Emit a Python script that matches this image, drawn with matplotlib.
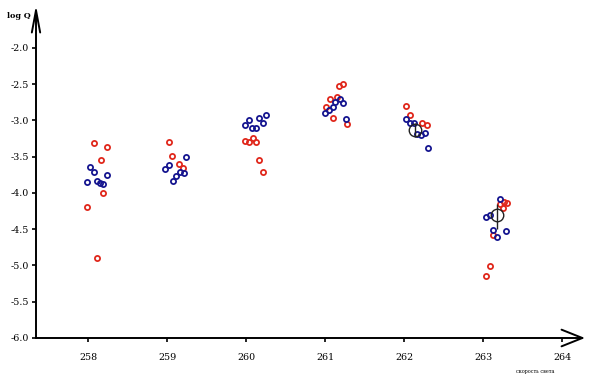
import matplotlib
matplotlib.use("Agg")
import matplotlib.pyplot as plt

# ---- data ----
red_x = [258.07, 258.24, 258.16, 258.19, 257.99, 258.11,
         259.02, 259.06, 259.15, 259.20,
         259.99, 260.04, 260.09, 260.13, 260.17, 260.21,
         261.18, 261.23, 261.06, 261.15, 261.01, 261.10, 261.28,
         262.03, 262.08, 262.23, 262.29,
         263.21, 263.26, 263.30, 263.25, 263.12, 263.09, 263.04]
red_y = [-3.31, -3.37, -3.55, -4.00, -4.20, -4.90,
         -3.30, -3.49, -3.60, -3.66,
         -3.28, -3.30, -3.25, -3.30, -3.55, -3.71,
         -2.53, -2.50, -2.71, -2.68, -2.82, -2.97, -3.05,
         -2.80, -2.92, -3.03, -3.07,
         -4.15, -4.13, -4.14, -4.21, -4.58, -5.01, -5.14]

blue_x = [258.03, 258.08, 258.24, 257.99, 258.11, 258.15, 258.19,
          259.24, 259.03, 258.98, 259.16, 259.21, 259.11, 259.07,
          259.99, 260.04, 260.17, 260.25, 260.22, 260.07, 260.13,
          261.19, 261.23, 261.13, 261.10, 261.05, 261.00, 261.27,
          262.02, 262.07, 262.12, 262.17, 262.21, 262.26, 262.30,
          263.22, 263.04, 263.09, 263.12, 263.29, 263.17]
blue_y = [-3.64, -3.71, -3.76, -3.85, -3.83, -3.86, -3.88,
          -3.51, -3.61, -3.67, -3.71, -3.72, -3.77, -3.84,
          -3.07, -3.00, -2.97, -2.93, -3.03, -3.11, -3.11,
          -2.71, -2.76, -2.75, -2.81, -2.86, -2.90, -2.98,
          -2.98, -3.03, -3.04, -3.19, -3.20, -3.18, -3.38,
          -4.09, -4.33, -4.31, -4.51, -4.52, -4.61]

mean_x = [262.14, 263.17]
mean_y = [-3.13, -4.30]
mean_err_lo = [0.10, 0.20]
mean_err_hi = [0.10, 0.15]

x_ticks = [258, 259, 260, 261, 262, 263, 264]
y_ticks = [-2.0, -2.5, -3.0, -3.5, -4.0, -4.5, -5.0, -5.5, -6.0]

# ---- figure ----
fig = plt.figure(figsize=(5.93, 3.80), dpi=100)
ax = fig.add_axes([36/593, 1-338/380, (585-36)/593, (338-5)/380])
x0, x1 = 257.342, 264.29
y0, y1 = -6.0, -1.41
ax.set_xlim(x0, x1)
ax.set_ylim(y0, y1)
for s in ax.spines.values():
    s.set_visible(False)

# axes with arrows
ax.annotate("", xy=(x1, y0), xytext=(x0, y0), xycoords="data",
            arrowprops=dict(arrowstyle="->,head_length=1.5,head_width=0.6",
                            lw=1.4, color="black", shrinkA=0, shrinkB=0),
            annotation_clip=False)
ax.annotate("", xy=(x0, y1), xytext=(x0, y0), xycoords="data",
            arrowprops=dict(arrowstyle="->,head_length=1.6,head_width=0.3",
                            lw=1.4, color="black", shrinkA=0, shrinkB=0),
            annotation_clip=False)

ax.set_xticks(x_ticks)
ax.set_xticklabels([str(t) for t in x_ticks])
ax.set_yticks(y_ticks)
ax.set_yticklabels([f"{t:.1f}" for t in y_ticks])
ax.tick_params(axis="both", direction="out", length=3, width=1.2,
               labelsize=6.8, color="black")
ax.tick_params(axis="x", pad=8)
ax.tick_params(axis="y", pad=2)
for lab in ax.get_xticklabels() + ax.get_yticklabels():
    lab.set_family("DejaVu Serif")

ax.plot(red_x, red_y, "o", mfc="none", mec="#e0281c", ms=3.7, mew=1.3,
        zorder=3)
ax.plot(blue_x, blue_y, "o", mfc="none", mec="#161690", ms=3.7, mew=1.3,
        zorder=3)
ax.errorbar(mean_x, mean_y, yerr=[mean_err_lo, mean_err_hi], fmt="o",
            mfc="none", mec="#222222", ms=9, mew=1.0, ecolor="#222222",
            elinewidth=1.0, capsize=0, zorder=4)

fig.text(7/593, 1-16/380, "log Q", family="DejaVu Serif", fontsize=5.8,
         fontweight="bold", va="center", ha="left")
fig.text(535/593, 1-371/380, "скорость света", family="DejaVu Serif",
         fontsize=3.5, va="center", ha="center")

fig.savefig("out.png", dpi=100)
